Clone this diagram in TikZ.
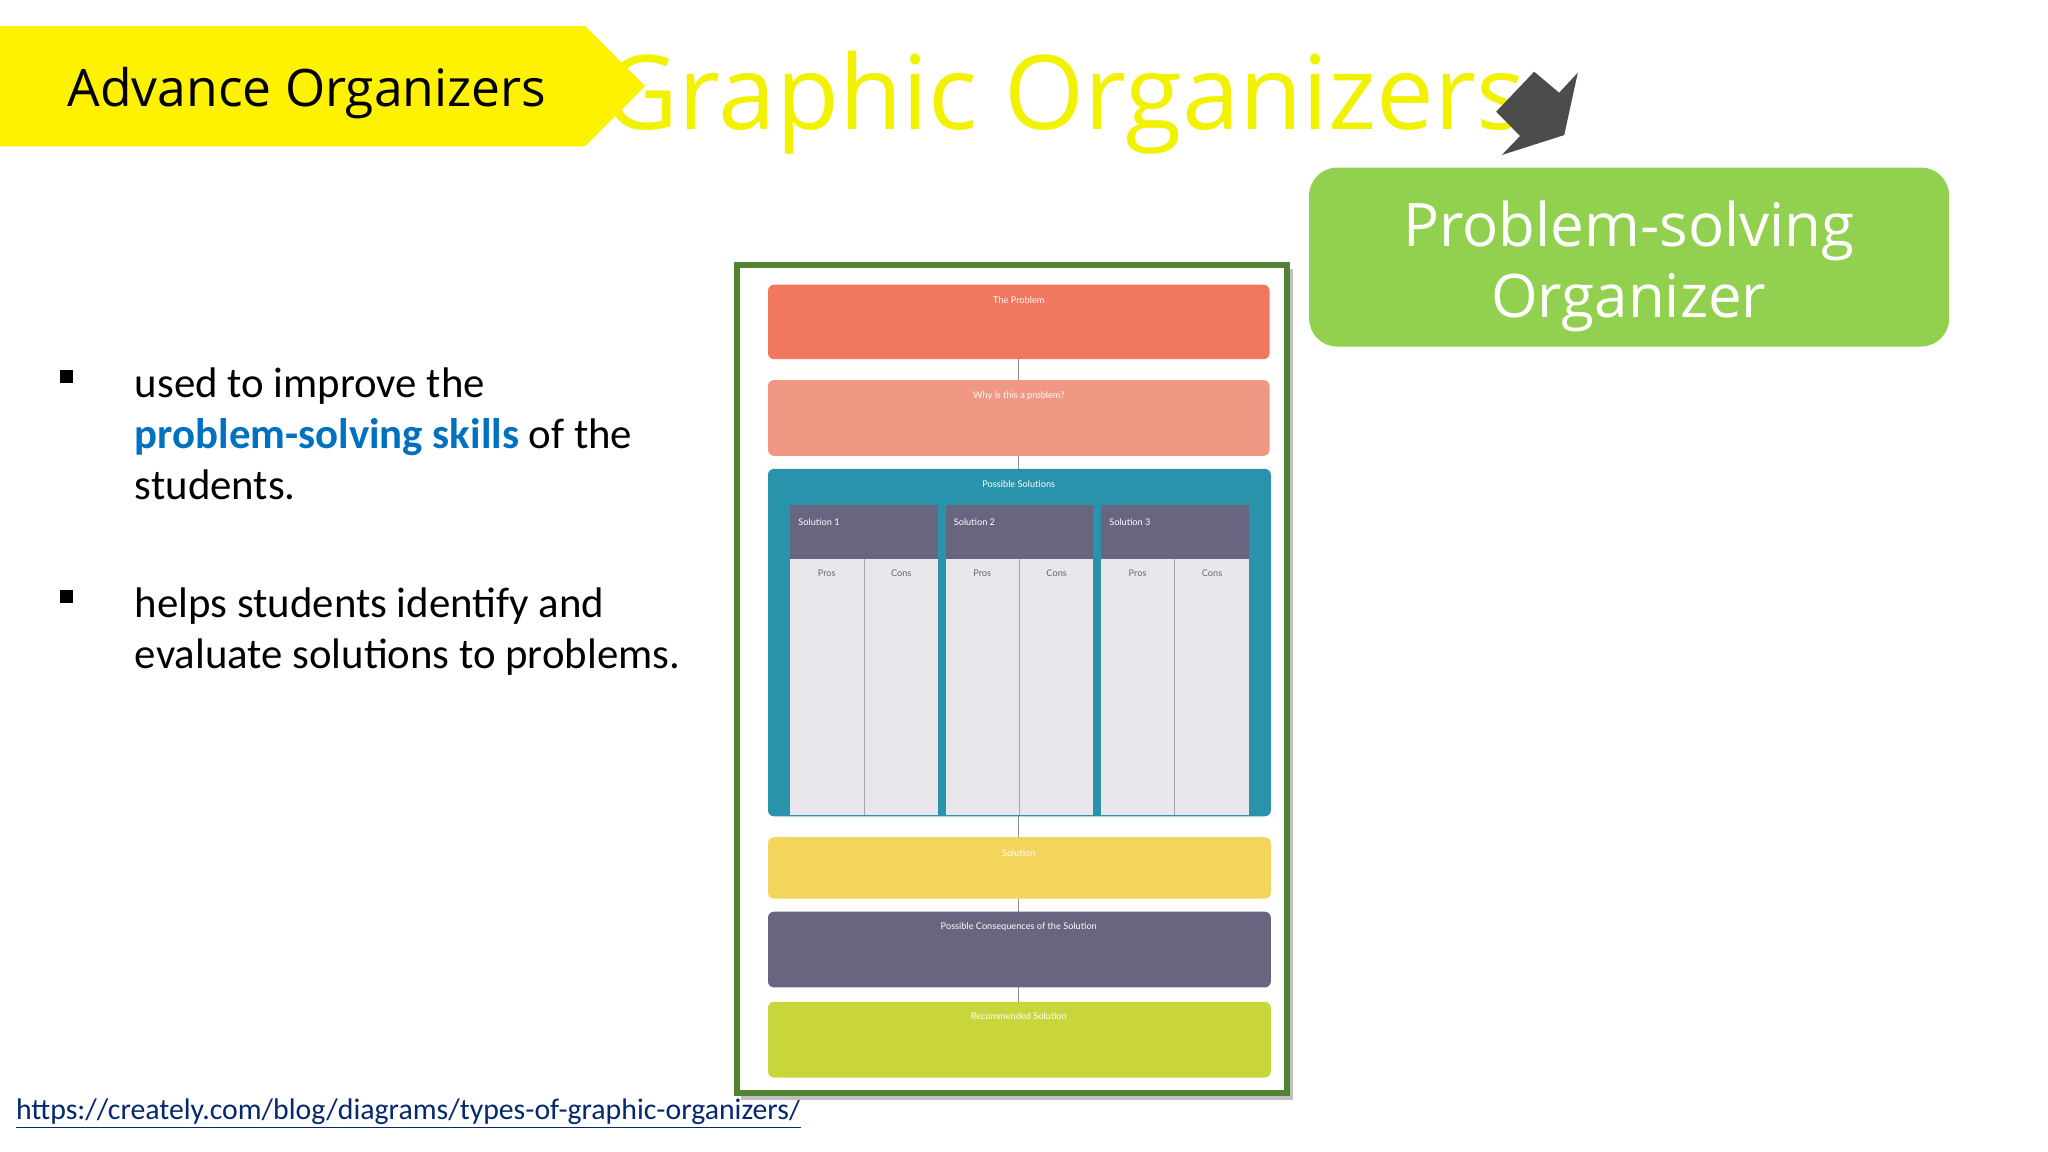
\documentclass[tikz,border=0pt]{standalone}
\usepackage{fontspec}
\setmainfont{Open Sans}
\newfontfamily\carl{Carlito}
\newfontfamily\lat{Lato}
\definecolor{ttl}{RGB}{242,242,0}
\definecolor{grn}{RGB}{146,208,80}
\definecolor{frm}{RGB}{84,130,53}
\definecolor{lnk}{RGB}{5,40,110}
\definecolor{blu}{RGB}{0,112,192}
\definecolor{cred}{RGB}{240,120,95}
\definecolor{cpink}{RGB}{240,152,132}
\definecolor{cteal}{RGB}{40,147,171}
\definecolor{cslate}{RGB}{103,101,128}
\definecolor{clight}{RGB}{233,231,236}
\definecolor{cyel}{RGB}{243,213,91}
\definecolor{clime}{RGB}{200,214,60}
\begin{document}
\begin{tikzpicture}[x=0.653pt,y=-0.653pt,
  lab/.style={inner sep=0,font=\lat\fontsize{4.6}{5}\selectfont,text=white},
  grey/.style={text=black!60},
  line/.style={draw=black!45,line width=0.6pt}]
\useasboundingbox[fill=white] (0,0) rectangle (1568,882);
% title
\node[anchor=west,inner sep=0,text=ttl,font=\fontsize{51.5}{55}\selectfont] (title) at (462,79) {Graphic Organizers};
% banner
\fill[yellow] (0,20) -- (448,20) -- (494,66) -- (448,112) -- (0,112) -- cycle;
\node[font=\fontsize{25.8}{30}\selectfont,inner sep=0] (ban) at (235,71) {Advance Organizers};
% arrow
\fill[black!70] (1174.6,54.9) -- (1193.7,71) -- (1208,55.7) -- (1197.6,103.4) -- (1149.8,118.7) -- (1163.8,104.1) -- (1145.5,85.5) -- cycle;
% green box
\node[fill=grn,rounded corners=14pt,minimum width=490*0.653pt,minimum height=137*0.653pt,anchor=north west,inner sep=0] (psb) at (1002,128) {};
\node[text=white,align=center,font=\fontsize{30}{35.5}\selectfont,inner sep=0] (pst) at (1247,204) {Problem-solving\\Organizer};
% bullets
\fill (46,283) rectangle (56,293);
\fill (46,452) rectangle (56,462);
\node[anchor=north west,inner sep=0,align=left,font=\carl\fontsize{21.4}{25.5}\selectfont] (b1) at (103,281) {used to improve the\\ \textcolor{blu}{\bfseries problem-solving skills} of the\\ students.};
\node[anchor=north west,inner sep=0,align=left,font=\carl\fontsize{21.4}{25.5}\selectfont] (b2) at (103,450) {helps students identify and\\ evaluate solutions to problems.};
\node[anchor=west,inner sep=0,font=\carl\fontsize{14.9}{16}\selectfont,text=lnk] (link) at (12,853) {\underline{https://creately.com/blog/diagrams/types-of-graphic-organizers/}};
% organizer frame
\fill[black!25] (567,206) rectangle (990,842);
\draw[fill=white,draw=frm,line width=3pt] (564,203) rectangle (985,837);
\draw[line] (780,275) -- (780,291);
\draw[line] (780,349) -- (780,359);
\draw[line] (780,625) -- (780,641);
\draw[line] (780,688) -- (780,698);
\draw[line] (780,756) -- (780,767);
\fill[cred,rounded corners=3pt] (588,218) rectangle (972,275);
\node[lab] (p1) at (780,230) {The Problem};
\fill[cpink,rounded corners=3pt] (588,291) rectangle (972,349);
\node[lab] (p2) at (780,303) {Why is this a problem?};
\fill[cteal,rounded corners=3pt] (588,359) rectangle (973,625);
\node[lab] (p3) at (780,371) {Possible Solutions};
\foreach \x/\n in {605/1,724/2,843/3}{
  \fill[cslate] (\x,387) rectangle ++(113,41);
  \fill[clight] (\x,428) rectangle ++(113,196);
  \draw[black!35,line width=0.5pt] (\x+56.5,428) -- (\x+56.5,624);
  \node[lab,anchor=west] at (\x+6,400) {Solution \n};
  \node[lab,grey] at (\x+28,439) {Pros};
  \node[lab,grey] at (\x+85,439) {Cons};
}
\fill[cyel,rounded corners=3pt] (588,641) rectangle (973,688);
\node[lab] (p4) at (780,653) {Solution};
\fill[cslate,rounded corners=3pt] (588,698) rectangle (973,756);
\node[lab] (p5) at (780,710) {Possible Consequences of the Solution};
\fill[clime,rounded corners=3pt] (588,767) rectangle (973,825);
\node[lab] (p6) at (780,778) {Recommended Solution};
\end{tikzpicture}
\end{document}
